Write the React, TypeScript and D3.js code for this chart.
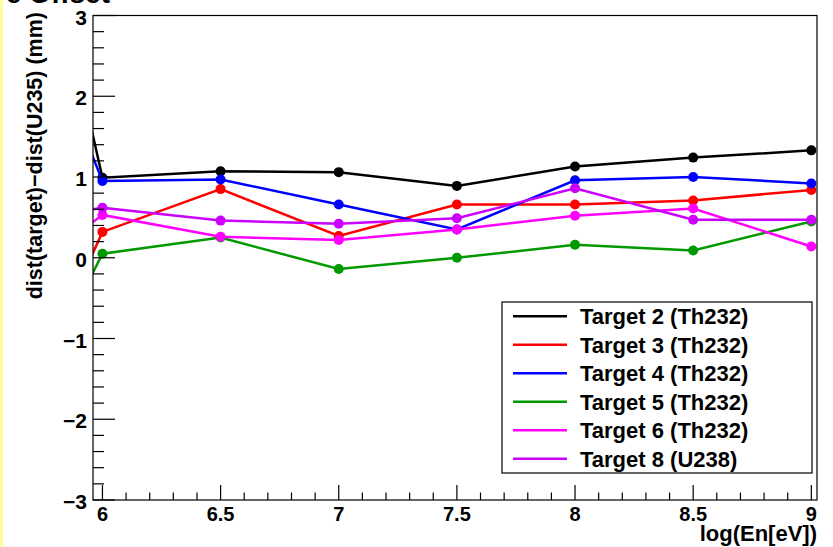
import React from 'react';
import * as d3 from 'd3';

// log(En[eV]) positions; first point lies just left of the visible axis range
const energies = [5.9, 6, 6.5, 7, 7.5, 8, 8.5, 9];

const target2 = [2.29, 0.99, 1.07, 1.06, 0.89, 1.13, 1.24, 1.33];
const target3 = [-0.33, 0.32, 0.85, 0.27, 0.66, 0.66, 0.71, 0.84];
const target4 = [1.68, 0.95, 0.97, 0.66, 0.35, 0.96, 1.0, 0.92];
const target5 = [-0.53, 0.05, 0.25, -0.14, 0.0, 0.16, 0.09, 0.45];
const target6 = [0.31, 0.53, 0.26, 0.22, 0.35, 0.52, 0.61, 0.14];
const target8 = [0.57, 0.62, 0.46, 0.42, 0.49, 0.86, 0.47, 0.47];

const seriesLabels = [
    'Target 2 (Th232)',
    'Target 3 (Th232)',
    'Target 4 (Th232)',
    'Target 5 (Th232)',
    'Target 6 (Th232)',
    'Target 8 (U238)'
];
const seriesValues = [target2, target3, target4, target5, target6, target8];
const seriesColors = ['#000000', '#ff0000', '#0000ff', '#009900', '#ff00ff', '#cc00ff'];

const W = 833;
const H = 547;
const FRAME = { left: 93, right: 817, top: 15.5, bottom: 500 };
const FONT = '"Liberation Sans", Arial, Helvetica, sans-serif';

const x = d3.scaleLinear().domain([5.96, 9.024]).range([FRAME.left, FRAME.right]);
const y = d3.scaleLinear().domain([-3, 3]).range([FRAME.bottom, FRAME.top]);

const line = d3.line<[number, number]>()
    .x(d => x(d[0]))
    .y(d => y(d[1]));

const legendRows = d3.scaleBand().domain(seriesLabels).range([302, 473]);

const fmt = (v: number) => String(v).replace('-', '\u2212');

export default function App() {
    const xMajor = x.ticks(6);
    const xMinor = x.ticks(30).filter(t => !xMajor.some(m => Math.abs(m - t) < 1e-9));
    const yMajor = y.ticks(6);
    const yMinor = y.ticks(30).filter(t => !yMajor.some(m => Math.abs(m - t) < 1e-9));

    return (
        <svg width={W} height={H} style={{ position: 'absolute', left: 0, top: 0, display: 'block' }}
            fontFamily={FONT} fontWeight="bold">
            <rect x={0} y={0} width={W} height={H} fill="#ffffff" />
            <rect x={0} y={0} width={3} height={H} fill="#ffff99" />
            <defs>
                <clipPath id="plot-clip">
                    <rect x={FRAME.left} y={FRAME.top} width={FRAME.right - FRAME.left} height={FRAME.bottom - FRAME.top} />
                </clipPath>
            </defs>

            {/* canvas title, mostly above the page edge */}
            <text x={110} y={2.5} fontSize={28} textAnchor="end">e Offset</text>

            {/* series */}
            <g clipPath="url(#plot-clip)">
                {seriesValues.map((vals, i) => {
                    const pts = energies.map((e, k) => [e, vals[k]] as [number, number]);
                    return (
                        <g key={seriesLabels[i]}>
                            <path d={line(pts) || ''} fill="none" stroke={seriesColors[i]} strokeWidth={2.5} />
                            {pts.map((p, k) => (
                                <circle key={k} cx={x(p[0])} cy={y(p[1])} r={5} fill={seriesColors[i]} />
                            ))}
                        </g>
                    );
                })}
            </g>

            {/* frame */}
            <rect x={FRAME.left} y={FRAME.top} width={FRAME.right - FRAME.left} height={FRAME.bottom - FRAME.top}
                fill="none" stroke="#000" strokeWidth={1.2} />

            {/* y axis ticks */}
            {yMajor.map(t => (
                <g key={'ym' + t}>
                    <line x1={FRAME.left} x2={FRAME.left + 22} y1={y(t)} y2={y(t)} stroke="#000" strokeWidth={1.2} />
                    <text x={87} y={y(t) + 9} fontSize={21} textAnchor="end">{fmt(t)}</text>
                </g>
            ))}
            {yMinor.map(t => (
                <line key={'yn' + t} x1={FRAME.left} x2={FRAME.left + 11} y1={y(t)} y2={y(t)} stroke="#000" strokeWidth={1.2} />
            ))}

            {/* x axis ticks */}
            {xMajor.map(t => (
                <g key={'xm' + t}>
                    <line x1={x(t)} x2={x(t)} y1={FRAME.bottom} y2={FRAME.bottom - 15} stroke="#000" strokeWidth={1.2} />
                    <text x={x(t)} y={521} fontSize={20} textAnchor="middle">{fmt(t)}</text>
                </g>
            ))}
            {xMinor.map(t => (
                <line key={'xn' + t} x1={x(t)} x2={x(t)} y1={FRAME.bottom} y2={FRAME.bottom - 7.5} stroke="#000" strokeWidth={1.2} />
            ))}

            {/* axis titles */}
            <text x={FRAME.right} y={541} fontSize={22} textAnchor="end">log(En[eV])</text>
            <text transform="translate(42,12) rotate(-90)" fontSize={21.5} textAnchor="end">
                dist(target){'\u2212'}dist(U235) (mm)
            </text>

            {/* legend */}
            <rect x={502} y={302} width={310} height={171} fill="#ffffff" stroke="#000" strokeWidth={1.2} />
            {seriesLabels.map((label, i) => {
                const cy = (legendRows(label) || 0) + legendRows.bandwidth() / 2;
                return (
                    <g key={'lg' + label}>
                        <line x1={513} x2={567} y1={cy} y2={cy} stroke={seriesColors[i]} strokeWidth={2.5} />
                        <text x={580} y={cy + 8} fontSize={22}>{label}</text>
                    </g>
                );
            })}
        </svg>
    );
}
